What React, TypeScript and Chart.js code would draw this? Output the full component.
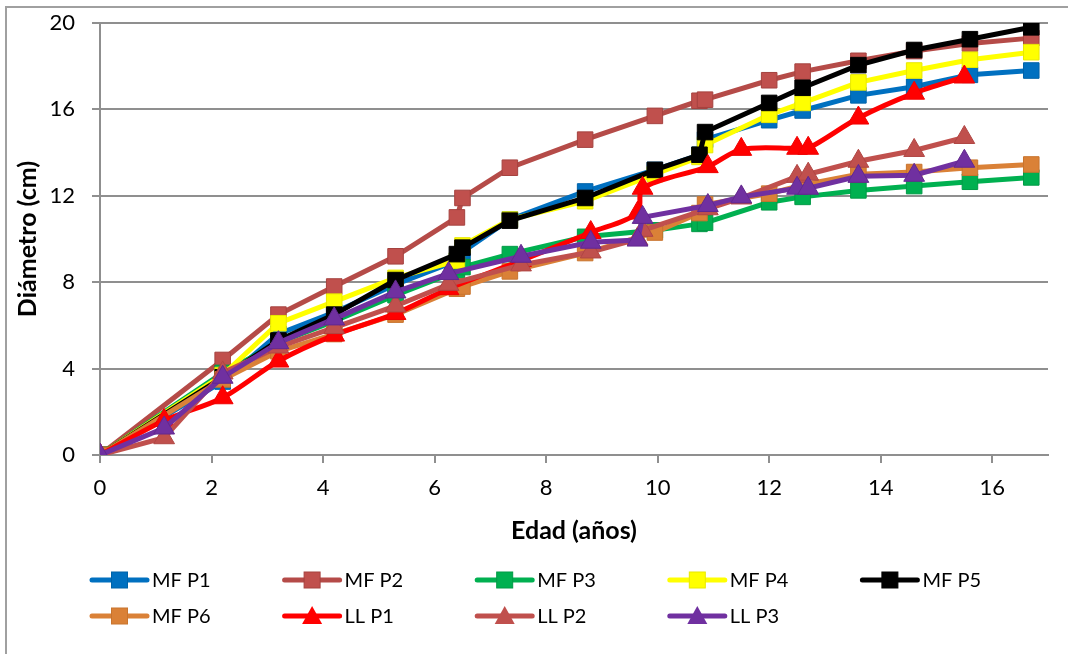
import React, { useEffect, useRef } from 'react';
import { Chart, registerables } from 'chart.js';

Chart.register(...registerables);

// Ages (x values)
const MF_AGES = [0, 2.2, 3.2, 4.2, 5.3, 6.4, 6.5, 7.35, 8.7, 9.95, 10.75, 10.85, 12.0, 12.6, 13.6, 14.6, 15.6, 16.7];
const LL_AGES = [0, 1.15, 2.2, 3.2, 4.2, 5.3, 6.25, 7.55, 8.8, 9.64, 9.73, 10.9, 11.5, 12.5, 12.7, 13.6, 14.6, 15.5];

// Diameters (cm)
const MF_P1 = [0, 3.4, 5.6, 6.6, 7.9, 9.0, 9.4, 10.9, 12.2, 13.2, 13.9, 14.6, 15.5, 15.95, 16.65, 17.05, 17.6, 17.8];
const MF_P2 = [0, 4.4, 6.5, 7.8, 9.2, 11.0, 11.9, 13.3, 14.6, 15.7, 16.4, 16.45, 17.35, 17.75, 18.25, 18.7, 19.05, 19.3];
const MF_P3 = [0, 3.8, 5.2, 6.2, 7.4, 8.5, 8.7, 9.3, 10.1, 10.4, 10.7, 10.75, 11.7, 11.95, 12.25, 12.45, 12.65, 12.85];
const MF_P4 = [0, 3.7, 6.1, 7.1, 8.2, 9.0, 9.7, 10.9, 11.75, 13.0, 13.8, 14.35, 15.75, 16.3, 17.25, 17.8, 18.3, 18.65];
const MF_P5 = [0, 3.6, 5.3, 6.5, 8.1, 9.3, 9.6, 10.85, 11.9, 13.2, 13.9, 14.95, 16.3, 17.0, 18.05, 18.75, 19.25, 19.8];
const MF_P6 = [0, 3.5, 4.8, 5.6, 6.5, 7.7, 7.8, 8.5, 9.35, 10.3, 11.2, 11.6, 12.1, 12.5, 13.0, 13.1, 13.3, 13.45];
const LL_P1 = [0, 1.6, 2.65, 4.35, 5.55, 6.55, 7.7, 9.0, 10.3, 11.2, 12.35, 13.35, 14.15, 14.2, 14.2, 15.6, 16.75, 17.5];
const LL_P2 = [0, 0.8, 3.8, 5.0, 5.9, 6.9, 7.9, 8.8, 9.4, 10.0, 10.4, 11.4, 11.9, 12.9, 13.0, 13.6, 14.1, 14.7];
const LL_P3 = [0, 1.25, 3.6, 5.2, 6.3, 7.55, 8.4, 9.2, 9.85, 9.95, 11.0, 11.55, 11.95, 12.35, 12.35, 12.9, 12.95, 13.6];

const SERIES_NAMES = ['MF P1', 'MF P2', 'MF P3', 'MF P4', 'MF P5', 'MF P6', 'LL P1', 'LL P2', 'LL P3'];
const SERIES_VALUES = [MF_P1, MF_P2, MF_P3, MF_P4, MF_P5, MF_P6, LL_P1, LL_P2, LL_P3];
const SERIES_AGES = [MF_AGES, MF_AGES, MF_AGES, MF_AGES, MF_AGES, MF_AGES, LL_AGES, LL_AGES, LL_AGES];

const X_TITLE = 'Edad (años)';
const Y_TITLE = 'Diámetro (cm)';

// Styles
const LINE_COLORS = ['#0070C0', '#B54B48', '#00B050', '#FFFF00', '#000000', '#DA8137', '#FF0000', '#C0504D', '#7030A0'];
const FILL_COLORS = ['#0070C0', '#C0504D', '#00B050', '#FFFF00', '#000000', '#DA8137', '#FF0000', '#C0504D', '#7030A0'];
const EDGE_COLORS = ['#0063A8', '#A5423F', '#009A46', '#E8E800', '#000000', '#C8742E', '#F00000', '#B04643', '#62288F'];
const POINT_STYLES = ['rect', 'rect', 'rect', 'rect', 'rect', 'rect', 'triangle', 'triangle', 'triangle'];
const TENSIONS = [0, 0, 0, 0, 0, 0, 0.3, 0, 0];

const FONT = 'Lato, Calibri, "Open Sans", sans-serif';
const GRID = '#8f8f8f';

const legendPlugin = {
  id: 'excelLegend',
  afterDraw(chart: any) {
    const ctx = chart.ctx as CanvasRenderingContext2D;
    const x0 = 92;
    const dx = 192.6;
    const y0 = 580;
    const dy = 36;
    chart.data.datasets.forEach((ds: any, i: number) => {
      const col = i % 5;
      const row = Math.floor(i / 5);
      const lx = x0 + col * dx;
      const ly = y0 + row * dy;
      ctx.save();
      ctx.strokeStyle = ds.borderColor;
      ctx.lineWidth = 5;
      ctx.lineCap = 'round';
      ctx.beginPath();
      ctx.moveTo(lx, ly);
      ctx.lineTo(lx + 55, ly);
      ctx.stroke();
      const cx = lx + 27.5;
      ctx.fillStyle = ds.pointBackgroundColor;
      ctx.strokeStyle = ds.pointBorderColor;
      ctx.lineWidth = 1;
      if (ds.pointStyle === 'rect') {
        ctx.fillRect(cx - 8, ly - 8, 16, 16);
        ctx.strokeRect(cx - 8, ly - 8, 16, 16);
      } else {
        ctx.beginPath();
        ctx.moveTo(cx, ly - 10);
        ctx.lineTo(cx + 10, ly + 8);
        ctx.lineTo(cx - 10, ly + 8);
        ctx.closePath();
        ctx.fill();
      }
      ctx.fillStyle = '#000';
      ctx.font = `20px ${FONT}`;
      ctx.textBaseline = 'middle';
      ctx.textAlign = 'left';
      ctx.fillText(ds.label, lx + 60, ly + 1);
      ctx.restore();
    });
  },
};

export default function App() {
  const ref = useRef<HTMLCanvasElement | null>(null);

  useEffect(() => {
    if (!ref.current) return;
    const datasets = SERIES_NAMES.map((name, i) => ({
      label: name,
      data: SERIES_VALUES[i].map((v, k) => ({ x: SERIES_AGES[i][k], y: v })),
      borderColor: LINE_COLORS[i],
      backgroundColor: FILL_COLORS[i],
      pointBackgroundColor: FILL_COLORS[i],
      pointBorderColor: EDGE_COLORS[i],
      pointBorderWidth: 1,
      pointStyle: POINT_STYLES[i],
      pointRadius: POINT_STYLES[i] === 'rect' ? 11 : 12,
      borderWidth: 5,
      tension: TENSIONS[i],
      order: SERIES_NAMES.length - i,
      fill: false,
    }));

    const chart = new Chart(ref.current, {
      type: 'line',
      data: { datasets },
      plugins: [legendPlugin],
      options: {
        animation: false,
        responsive: false,
        devicePixelRatio: 1,
        layout: { padding: { top: 23, right: 20, left: 0, bottom: 0 } },
        plugins: { legend: { display: false }, tooltip: { enabled: false } },
        scales: {
          x: {
            type: 'linear',
            min: 0,
            max: 17,
            afterFit: (s: any) => { s.height = 199; },
            ticks: { stepSize: 2, includeBounds: false, color: '#000', font: { family: FONT, size: 22 }, padding: 12 },
            grid: { display: true, drawOnChartArea: false, drawTicks: true, tickLength: 8, color: GRID, lineWidth: 2 },
            border: { display: true, color: GRID, width: 2 },
            title: { display: true, text: X_TITLE, color: '#000', font: { family: FONT, size: 25, weight: 'bold' }, padding: { top: 0, bottom: 108 } },
          },
          y: {
            type: 'linear',
            min: 0,
            max: 20,
            afterFit: (s: any) => { s.width = 100; s.paddingTop = 0; s.paddingBottom = 0; },
            ticks: { stepSize: 4, color: '#000', font: { family: FONT, size: 22 }, padding: 17 },
            grid: { display: true, drawTicks: true, tickLength: 8, color: GRID, lineWidth: 2 },
            border: { display: true, color: GRID, width: 2 },
            title: { display: true, text: Y_TITLE, color: '#000', font: { family: FONT, size: 25, weight: 'bold' }, padding: { top: 13, bottom: 0 } },
          },
        },
      } as any,
    });
    return () => chart.destroy();
  }, []);

  return (
    <div style={{ position: 'fixed', left: 0, top: 0, width: 1068, height: 654, background: '#fff', overflow: 'hidden' }}>
      <canvas ref={ref} width={1068} height={654} style={{ position: 'absolute', left: 0, top: 0, width: 1068, height: 654 }} />
      <div style={{ position: 'absolute', left: 5, top: 6, width: 1100, height: 700, borderLeft: '2px solid #a0a0a0', borderTop: '2px solid #a0a0a0', pointerEvents: 'none' }} />
    </div>
  );
}
